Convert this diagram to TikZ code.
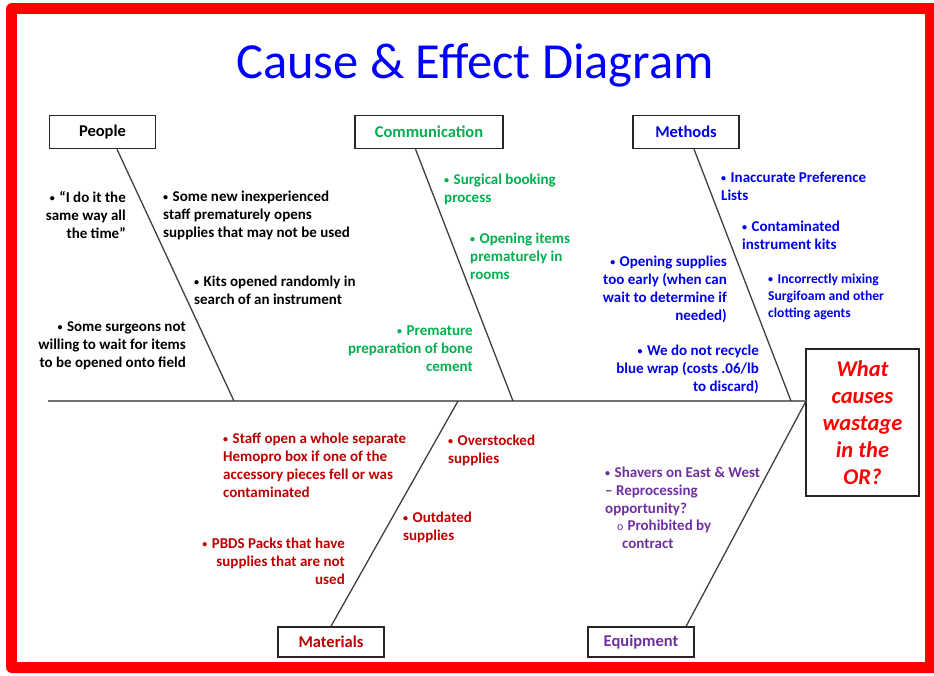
\documentclass[tikz,border=0pt]{standalone}
\usepackage{fontspec}
\setmainfont{Carlito}
\usetikzlibrary{calc}
\definecolor{titleblue}{RGB}{0,0,255}
\definecolor{mblue}{RGB}{0,0,235}
\definecolor{cgreen}{RGB}{0,176,80}
\definecolor{mred}{RGB}{192,0,0}
\definecolor{eqpurple}{RGB}{112,48,160}
\definecolor{framered}{RGB}{255,0,0}
\newcommand{\mybul}{{\fontsize{10}{10}\selectfont\raisebox{1pt}{•}}\hspace{4.5pt}}
\tikzset{
  txt/.style={font=\bfseries\fontsize{15}{18}\selectfont, inner sep=0pt},
  txtsmall/.style={font=\bfseries\fontsize{13.6}{16.6}\selectfont, inner sep=0pt},
  catbox/.style={draw=black!85, line width=1.5pt, fill=white, minimum width=106pt, minimum height=33pt,
    inner sep=0pt, font=\bfseries\fontsize{16.5}{20}\selectfont},
  bone/.style={draw=black!75, line width=1.3pt},
  spine/.style={draw=black!55, line width=1.8pt},
}
\begin{document}
\begin{tikzpicture}[x=1pt,y=-1pt]
\useasboundingbox (0,0) rectangle (934,675);
\fill[white] (0,0) rectangle (934,675);
% frame
\fill[framered, rounded corners=6pt] (6,3) rectangle (950,673);
\fill[white] (17,14) rectangle (925,662);

% title
\node[font=\fontsize{50.5}{60}\selectfont, text=titleblue, anchor=base, inner sep=0pt] (title) at (475,78) {Cause \& Effect Diagram};

% boxes
\node[catbox] (people) at (102.5,132) {People};
\node[catbox, minimum width=148pt, text=cgreen] (comm) at (429,132) {Communication};
\node[catbox, text=mblue] (methods) at (686,132) {Methods};
\node[catbox, minimum height=30pt, text=mred] (materials) at (331,642) {Materials};
\node[catbox, minimum height=30pt, text=eqpurple] (equip) at (641,642) {Equipment};
\node[draw=black!85, line width=1.5pt, fill=white, minimum width=113pt, minimum height=147pt, inner sep=0pt,
  align=center, text=framered, font=\bfseries\itshape\fontsize{22.5}{27}\selectfont] (effect) at (862.5,422.5)
  {What\\causes\\wastage\\in the\\OR?};

% spine and bones
\coordinate (tail) at (48,401);
\coordinate (head) at (806,401);
\coordinate (pj) at (234,401);
\coordinate (cj) at (513,401);
\coordinate (mj) at (791,401);
\coordinate (tj) at (458,401);
\draw[spine] (tail) -- (head);
\draw[bone] ($(people.south west)!0.635!(people.south east)$) -- (pj);
\draw[bone] ($(comm.south west)!0.41!(comm.south east)$) -- (cj);
\draw[bone] ($(methods.south west)!0.575!(methods.south east)$) -- (mj);
\draw[bone] (tj) -- (materials.north);
\draw[bone] (head) -- ($(equip.north west)!0.92!(equip.north east)$);

% People (anchor = baseline of last line)
\node[txt, align=right, anchor=base east] (p1) at (126,238) {\mybul“I do it the\\same way all\\the time”};
\node[txt, align=left, anchor=base west] (p2) at (163,237) {\mybul Some new inexperienced\\staff prematurely opens\\supplies that may not be used};
\node[txt, align=left, anchor=base west] (p3) at (194,304) {\mybul Kits opened randomly in\\search of an instrument};
\node[txt, align=right, anchor=base east] (p4) at (186,367) {\mybul Some surgeons not\\willing to wait for items\\to be opened onto field};

% Communication
\node[txt, text=cgreen, align=left, anchor=base west] (c1) at (444,202) {\mybul Surgical booking\\process};
\node[txt, text=cgreen, align=left, anchor=base west] (c2) at (470,279) {\mybul Opening items\\prematurely in\\rooms};
\node[txt, text=cgreen, align=right, anchor=base east] (c3) at (473,371) {\mybul Premature\\preparation of bone\\cement};

% Methods
\node[txt, text=mblue, align=left, anchor=base west] (m1) at (721,200) {\mybul Inaccurate Preference\\Lists};
\node[txt, text=mblue, align=left, anchor=base west] (m2) at (742,249) {\mybul Contaminated\\instrument kits};
\node[txtsmall, text=mblue, align=left, anchor=base west] (m3) at (768,317) {\mybul Incorrectly mixing\\Surgifoam and other\\clotting agents};
\node[txt, text=mblue, align=right, anchor=base east] (m4) at (727,320) {\mybul Opening supplies\\too early (when can\\wait to determine if\\needed)};
\node[txt, text=mblue, align=right, anchor=base east] (m5) at (759,391) {\mybul We do not recycle\\blue wrap (costs .06/lb\\to discard)};

% Materials
\node[txt, text=mred, align=left, anchor=base west] (t1) at (223,497) {\mybul Staff open a whole separate\\Hemopro box if one of the\\accessory pieces fell or was\\contaminated};
\node[txt, text=mred, align=left, anchor=base west] (t2) at (448,463) {\mybul Overstocked\\supplies};
\node[txt, text=mred, align=left, anchor=base west] (t3) at (403,540) {\mybul Outdated\\supplies};
\node[txt, text=mred, align=right, anchor=base east] (t4) at (345,584) {\mybul PBDS Packs that have\\supplies that are not\\used};

% Equipment
\node[txt, text=eqpurple, align=left, anchor=base west] (e1) at (605,513) {\mybul Shavers on East \& West\\– Reprocessing\\opportunity?};
\node[txt, text=eqpurple, align=left, anchor=base west] (e2) at (617,548) {{\mdseries\fontsize{12}{12}\selectfont o}\hspace{4pt}Prohibited by\\\hspace*{5pt}contract};
\end{tikzpicture}
\end{document}
